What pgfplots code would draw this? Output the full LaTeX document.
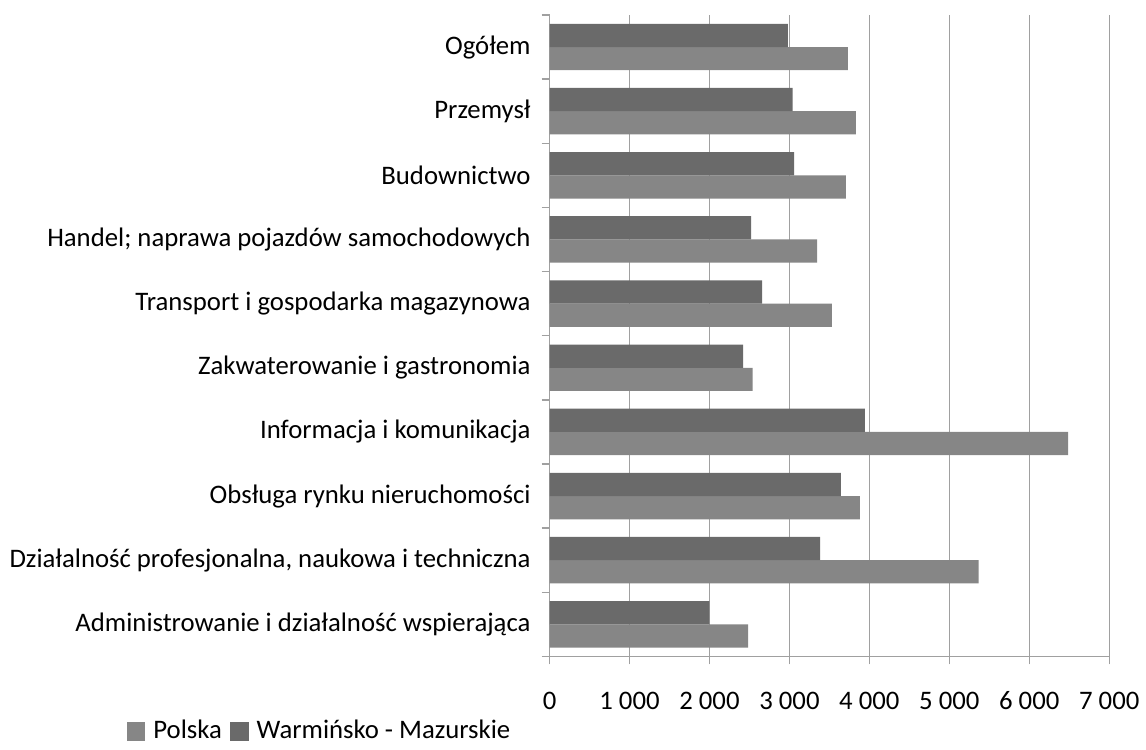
\documentclass[border=0pt]{standalone}
\usepackage{pgfplots}
\pgfplotsset{compat=1.18}
\usepackage{fontspec}
\setmainfont{Carlito}
\definecolor{darkbar}{RGB}{106,106,106}
\definecolor{lightbar}{RGB}{134,134,134}
\definecolor{gridc}{RGB}{160,160,160}
\begin{document}
\begin{tikzpicture}
\begin{axis}[
  scale only axis, width=280.5pt, height=321.5pt,
  xmin=0, xmax=7000, ymin=-0.5, ymax=9.5,
  axis x line*=bottom, axis y line*=left,
  axis line style={gridc, line width=0.7pt},
  tick style={gridc, line width=0.7pt},
  tick align=outside, major tick length=4pt,
  xtick={0,1000,2000,3000,4000,5000,6000,7000},
  xticklabels={0,1 000,2 000,3 000,4 000,5 000,6 000,7 000},
  xmajorgrids, major grid style={gridc, line width=0.7pt},
  ytick={-0.5,0.5,1.5,2.5,3.5,4.5,5.5,6.5,7.5,8.5,9.5},
  yticklabels={},
  extra y ticks={0,1,2,3,4,5,6,7,8,9},
  extra y tick labels={Administrowanie i działalność wspierająca,{Działalność profesjonalna, naukowa i techniczna},Obsługa rynku nieruchomości,Informacja i komunikacja,Zakwaterowanie i gastronomia,Transport i gospodarka magazynowa,Handel; naprawa pojazdów samochodowych,Budownictwo,Przemysł,Ogółem},
  extra y tick style={major tick length=0pt, yticklabel style={xshift=-6pt}},
  tick label style={font=\fontsize{13.4}{15}\selectfont},
  xticklabel style={yshift=-10pt, text height=9pt, text depth=2pt},
  xbar, bar width=0.362,
  clip=false,
  legend columns=2,
  legend style={at={(-0.767,-0.1166)}, anchor=west, draw=none, fill=none,
    font=\fontsize{13.4}{15}\selectfont,
    /tikz/every odd column/.append style={column sep=2pt},
    /tikz/every even column/.append style={column sep=2pt}},
  legend image code/.code={\path[#1, draw=none] (0pt,-4.7pt) rectangle (9.4pt,4.7pt);},
]
\addplot[fill=lightbar, draw=none, bar shift=-0.181] coordinates {
  (2485,0) (5365,1) (3880,2) (6485,3) (2540,4) (3530,5) (3345,6) (3705,7) (3830,8) (3730,9)};
\addlegendentry{Polska}
\addplot[fill=darkbar, draw=none, bar shift=0.181] coordinates {
  (2000,0) (3385,1) (3645,2) (3945,3) (2420,4) (2660,5) (2520,6) (3060,7) (3040,8) (2980,9)};
\addlegendentry{Warmińsko - Mazurskie}
\path (axis description cs:-0.982,-0.1306) rectangle (axis description cs:1.0606,1.0233);
\end{axis}
\end{tikzpicture}
\end{document}
